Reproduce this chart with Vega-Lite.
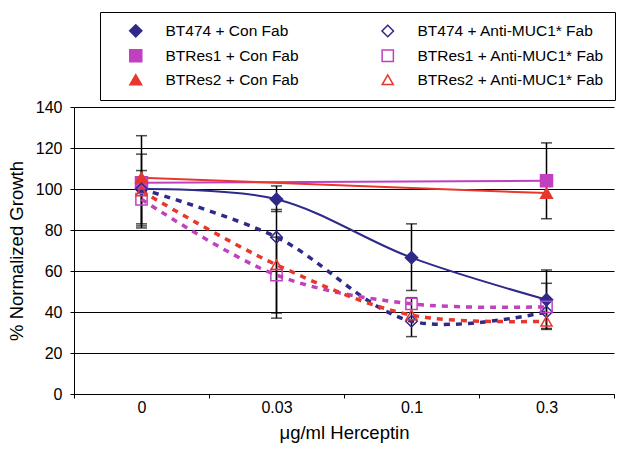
{
  "$schema": "https://vega.github.io/schema/vega-lite/v6.json",
  "width": 540,
  "height": 287,
  "autosize": {"type": "none"},
  "padding": {"left": 74, "top": 107, "right": 7, "bottom": 58},
  "background": "white",
  "config": {
    "view": {"stroke": null},
    "font": "Liberation Sans",
    "axis": {"labelFont": "Liberation Sans", "titleFont": "Liberation Sans", "labelColor": "black", "titleColor": "black", "titleFontWeight": "normal", "domainColor": "black", "tickColor": "black"}
  },
  "datasets": {
    "pts": [
      {"series": "BT474 + Con Fab", "kind": "con", "dose": "0", "value": 100, "lo": 83, "hi": 117},
      {"series": "BT474 + Con Fab", "kind": "con", "dose": "0.03", "value": 95, "lo": 89, "hi": 101.5},
      {"series": "BT474 + Con Fab", "kind": "con", "dose": "0.1", "value": 66.5, "lo": 50.5, "hi": 83},
      {"series": "BT474 + Con Fab", "kind": "con", "dose": "0.3", "value": 46, "lo": 31.5, "hi": 60.5},
      {"series": "BTRes1 + Con Fab", "kind": "con", "dose": "0", "value": 103, "lo": 81, "hi": 126},
      {"series": "BTRes1 + Con Fab", "kind": "con", "dose": "0.3", "value": 104, "lo": 85.5, "hi": 122.5},
      {"series": "BTRes2 + Con Fab", "kind": "con", "dose": "0", "value": 105.5, "lo": null, "hi": null},
      {"series": "BTRes2 + Con Fab", "kind": "con", "dose": "0.3", "value": 98, "lo": null, "hi": null},
      {"series": "BT474 + Anti-MUC1* Fab", "kind": "anti", "dose": "0", "value": 100, "lo": null, "hi": null},
      {"series": "BT474 + Anti-MUC1* Fab", "kind": "anti", "dose": "0.03", "value": 76.5, "lo": null, "hi": null},
      {"series": "BT474 + Anti-MUC1* Fab", "kind": "anti", "dose": "0.1", "value": 35.5, "lo": 28, "hi": 47},
      {"series": "BT474 + Anti-MUC1* Fab", "kind": "anti", "dose": "0.3", "value": 40, "lo": null, "hi": null},
      {"series": "BTRes1 + Anti-MUC1* Fab", "kind": "anti", "dose": "0", "value": 95, "lo": null, "hi": null},
      {"series": "BTRes1 + Anti-MUC1* Fab", "kind": "anti", "dose": "0.03", "value": 58, "lo": 39.5, "hi": 76.5},
      {"series": "BTRes1 + Anti-MUC1* Fab", "kind": "anti", "dose": "0.1", "value": 44, "lo": null, "hi": null},
      {"series": "BTRes1 + Anti-MUC1* Fab", "kind": "anti", "dose": "0.3", "value": 42.5, "lo": 32, "hi": 54},
      {"series": "BTRes2 + Anti-MUC1* Fab", "kind": "anti", "dose": "0", "value": 99, "lo": 82, "hi": 109},
      {"series": "BTRes2 + Anti-MUC1* Fab", "kind": "anti", "dose": "0.03", "value": 63, "lo": 37, "hi": 90},
      {"series": "BTRes2 + Anti-MUC1* Fab", "kind": "anti", "dose": "0.1", "value": 38.5, "lo": null, "hi": null},
      {"series": "BTRes2 + Anti-MUC1* Fab", "kind": "anti", "dose": "0.3", "value": 35.5, "lo": null, "hi": null}
    ]
  },
  "data": {"name": "pts"},
  "encoding": {
    "x": {
      "field": "dose", "type": "ordinal", "sort": ["0", "0.03", "0.1", "0.3"],
      "scale": {"type": "band", "paddingInner": 0, "paddingOuter": 0},
      "axis": {"title": "μg/ml Herceptin", "tickBand": "extent", "grid": false, "labelAngle": 0, "labelFontSize": 16, "titleFontSize": 18.5, "tickSize": 4, "labelPadding": 1, "titlePadding": 8}
    }
  },
  "layer": [
    {
      "transform": [{"filter": "isValid(datum.lo)"}],
      "mark": {"type": "errorbar", "color": "black", "ticks": {"size": 11, "thickness": 1.5, "color": "black"}, "rule": {"strokeWidth": 1.5, "color": "black"}},
      "encoding": {
        "y": {"field": "lo", "type": "quantitative", "scale": {"domain": [0, 140], "nice": false},
          "axis": {"title": "% Normalized Growth", "values": [0, 20, 40, 60, 80, 100, 120, 140], "grid": true, "gridColor": "black", "gridWidth": 1, "labelFontSize": 16, "titleFontSize": 18.5, "tickSize": 4, "labelPadding": 8, "titlePadding": 9}},
        "y2": {"field": "hi"}
      }
    },
    {
      "transform": [{"filter": "datum.kind == 'anti'"}],
      "mark": {"type": "line", "interpolate": "catmull-rom", "strokeWidth": 3.5, "strokeDash": [6, 6]},
      "encoding": {
        "y": {"field": "value", "type": "quantitative", "title": "% Normalized Growth"},
        "stroke": {"field": "series", "type": "nominal",
          "scale": {"domain": ["BT474 + Con Fab", "BTRes1 + Con Fab", "BTRes2 + Con Fab", "BT474 + Anti-MUC1* Fab", "BTRes1 + Anti-MUC1* Fab", "BTRes2 + Anti-MUC1* Fab"],
            "range": ["#2F2A8A", "#C040C0", "#E8372C", "#2F2A8A", "#C040C0", "#E8372C"]}}
      }
    },
    {
      "transform": [{"filter": "datum.kind == 'con'"}],
      "mark": {"type": "line", "interpolate": "catmull-rom", "strokeWidth": 2},
      "encoding": {
        "y": {"field": "value", "type": "quantitative", "title": "% Normalized Growth"},
        "stroke": {"field": "series", "type": "nominal"}
      }
    },
    {
      "mark": {"type": "point", "opacity": 1, "strokeWidth": 1.5},
      "encoding": {
        "y": {"field": "value", "type": "quantitative", "title": "% Normalized Growth"},
        "stroke": {"field": "series", "type": "nominal",
          "legend": {
            "title": null, "orient": "none", "legendX": 26, "legendY": -95, "columns": 2,
            "strokeColor": "black", "fillColor": "white", "padding": 11,
            "labelFontSize": 15.5, "labelColor": "black", "labelFont": "Liberation Sans", "labelLimit": 300,
            "symbolSize": 144, "symbolOffset": 17, "labelOffset": 22, "rowPadding": 6, "columnPadding": 64
          }},
        "shape": {"field": "series", "type": "nominal",
          "scale": {"domain": ["BT474 + Con Fab", "BTRes1 + Con Fab", "BTRes2 + Con Fab", "BT474 + Anti-MUC1* Fab", "BTRes1 + Anti-MUC1* Fab", "BTRes2 + Anti-MUC1* Fab"],
            "range": ["diamond", "square", "triangle-up", "diamond", "square", "triangle-up"]},
          "legend": null},
        "fill": {"field": "series", "type": "nominal",
          "scale": {"domain": ["BT474 + Con Fab", "BTRes1 + Con Fab", "BTRes2 + Con Fab", "BT474 + Anti-MUC1* Fab", "BTRes1 + Anti-MUC1* Fab", "BTRes2 + Anti-MUC1* Fab"],
            "range": ["#2F2A8A", "#C040C0", "#E8372C", "transparent", "transparent", "transparent"]},
          "legend": null},
        "size": {"field": "series", "type": "nominal",
          "scale": {"domain": ["BT474 + Con Fab", "BTRes1 + Con Fab", "BTRes2 + Con Fab", "BT474 + Anti-MUC1* Fab", "BTRes1 + Anti-MUC1* Fab", "BTRes2 + Anti-MUC1* Fab"],
            "range": [150, 121, 196, 170, 225, 190]},
          "legend": null}
      }
    }
  ]
}
